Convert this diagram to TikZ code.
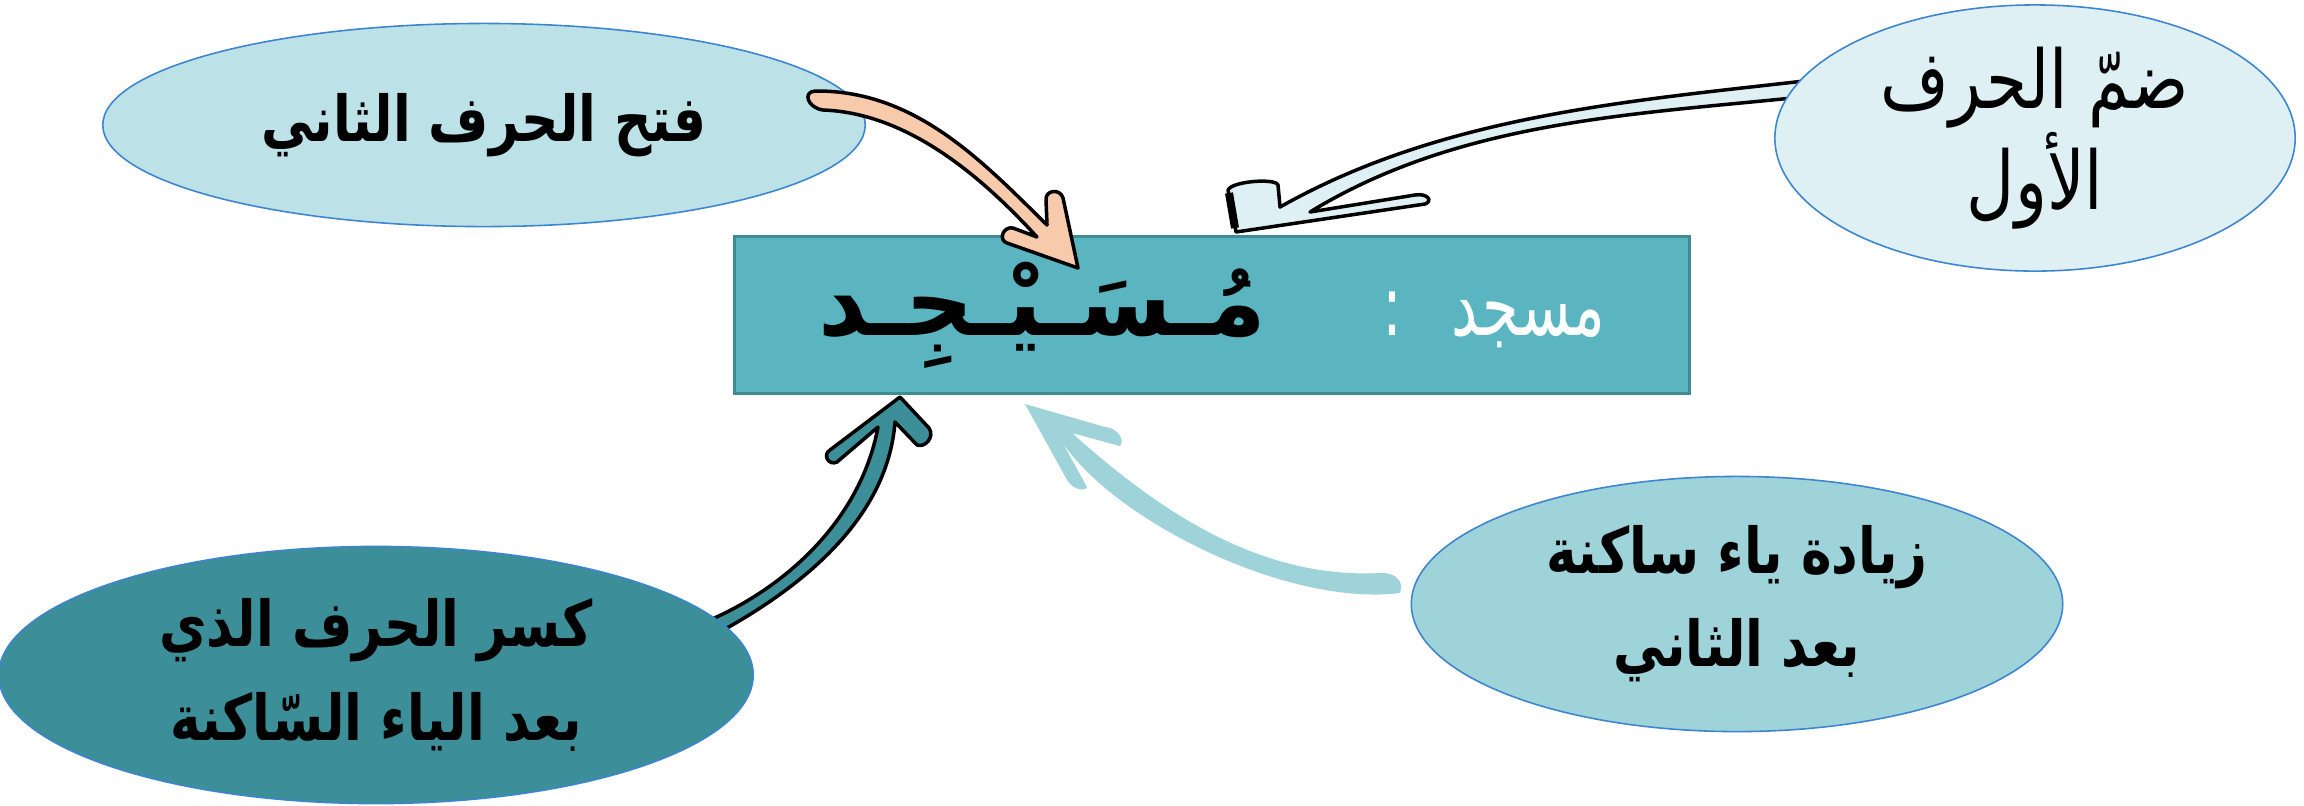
\documentclass[tikz,border=0pt]{standalone}
\usepackage{fontspec}
\newfontfamily\arabicfont[Script=Arabic]{DejaVu Sans}
\newfontfamily\arabicnarrow[Script=Arabic, FakeStretch=0.82]{DejaVu Sans}
\newfontfamily\arabicslim[Script=Arabic, FakeStretch=0.7]{DejaVu Sans}
\TeXXeTstate=1
\usetikzlibrary{shapes.geometric}

\definecolor{boxfill}{HTML}{5AB5C1}
\definecolor{boxline}{HTML}{408C94}
\definecolor{fathafill}{HTML}{BCE2E7}
\definecolor{dammafill}{HTML}{DEF0F3}
\definecolor{kasrafill}{HTML}{3C8E98}
\definecolor{yaafill}{HTML}{9ED3DA}
\definecolor{orangefill}{HTML}{F7CAAC}
\definecolor{ovalline}{HTML}{3E85D0}

\tikzset{
	oval/.style={ellipse, draw=ovalline, line width=0.45pt, inner sep=-4pt, align=center},
	ovaltext/.style={font=\arabicnarrow\bfseries\fontsize{18}{26.5}\selectfont},
	arrowline/.style={draw=black, line width=0.35mm, line join=round},
}

\begin{document}
\begin{tikzpicture}[x=0.01cm, y=-0.01cm]
		\useasboundingbox (0,0) rectangle (2304,805);

		\coordinate (dammatip) at (1236,232);
		\coordinate (kasratip) at (900,397);
		\coordinate (fathatip) at (1078,268);
		\coordinate (yaatip) at (1025,404);

		\filldraw [arrowline, fill=dammafill] (1830,78) .. controls (1644,100) and (1448,112) .. (1280,207) -- (1278,185) .. controls (1276,178) and (1232,181) .. (1228,190) -- (dammatip) -- (1425,204) .. controls (1433,201) and (1428,193) .. (1415,195) -- (1310,212) .. controls (1467,116) and (1652,114) .. (1830,94) -- cycle;
		\draw [line width=0.8mm] (1229,193) -- (1235,228);

		\filldraw [arrowline, fill=kasrafill] (690,628) .. controls (778,596) and (860,524) .. (878,427) -- (837,462) .. controls (829,466) and (822,455) .. (830,450) -- (kasratip) -- (929,428) .. controls (935,437) and (925,448) .. (917,445) -- (895,422) .. controls (887,526) and (789,596) .. (705,640) -- cycle;

		\node [rectangle, fill=boxfill, draw=boxline, line width=0.9pt, minimum width=9.55cm, minimum height=1.57cm, inner sep=0pt, font=\arabicfont\fontsize{27}{30}\selectfont] (word) at (1212,315) {\beginR\textcolor{white}{\arabicslim\fontsize{24}{30}\selectfont مسجد\hspace{0.49cm}:}\hspace{1.17cm}\textbf{مُـسَـيْـجِـد}\endR};

		\node [oval, ovaltext, fill=fathafill, minimum width=7.62cm, minimum height=2.03cm] (fatha) at (484,125) {\beginR فتح الحرف الثاني\endR};
		\node [oval, fill=dammafill, minimum width=5.2cm, minimum height=2.66cm, font=\arabicnarrow\fontsize{23}{27.3}\selectfont] (damma) at (2035,138) {\beginR ضمّ الحرف\endR\\\beginR الأول\endR};
		\node [oval, ovaltext, fill=kasrafill, minimum width=7.54cm, minimum height=2.57cm] (kasra) at (376,675) {\beginR كسر الحرف الذي\endR\\\beginR بعد الياء السّاكنة\endR};
		\node [oval, ovaltext, fill=yaafill, minimum width=6.51cm, minimum height=2.55cm] (yaa) at (1737,604) {\beginR زيادة ياء ساكنة\endR\\\beginR بعد الثاني\endR};

		\filldraw [arrowline, fill=orangefill] (815,91) .. controls (915,90) and (982,161) .. (1047,225) -- (1046,200) .. controls (1045,190) and (1060,188) .. (1063,198) -- (fathatip) -- (1007,243) .. controls (998,240) and (1003,226) .. (1013,228) -- (1037,237) .. controls (982,177) and (908,113) .. (823,110) .. controls (808,108) and (802,92) .. (815,91) -- cycle;

		\fill [yaafill] (yaatip) -- (1105,427) .. controls (1118,428) and (1125,440) .. (1120,446) -- (1072,433) .. controls (1160,512) and (1260,579) .. (1380,573) .. controls (1393,572) and (1405,580) .. (1400,593) .. controls (1289,607) and (1116,522) .. (1062,442) -- (1087,487) .. controls (1085,492) and (1072,490) .. (1066,478) -- cycle;

		\end{tikzpicture}
\end{document}
